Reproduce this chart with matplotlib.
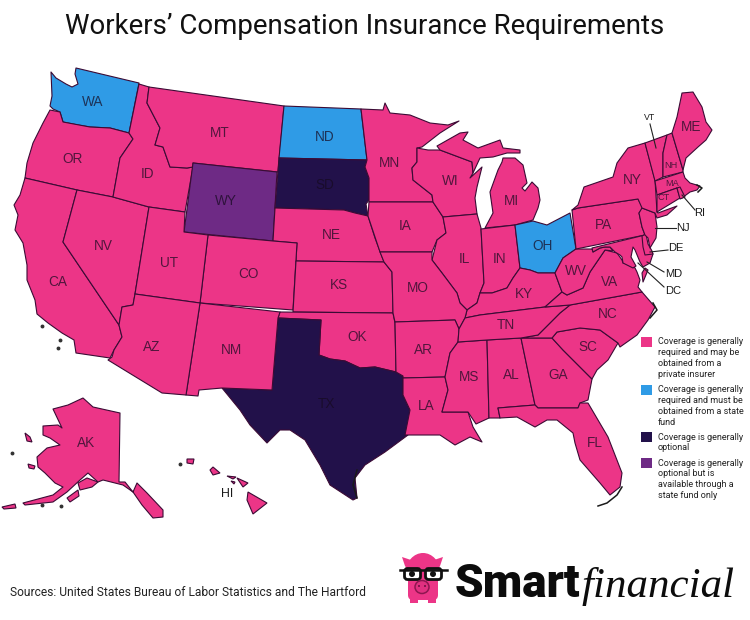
import matplotlib
matplotlib.use('Agg')
import matplotlib.pyplot as plt
from matplotlib.patches import Polygon, Circle, Ellipse, Rectangle, FancyBboxPatch

# state outlines in image pixels
WA = [(51,72),(56,78),(66,84),(72,87),(78,84),(75,74),(76,68),(139,83),(129,133),(110,128),(90,127),(78,125),(63,122),(60,112),(53,109),(50,106),(52,96)]
OR = [(50,110),(60,112),(63,122),(90,127),(110,128),(129,133),(133,139),(120,158),(113,197),(77,190),(25,178),(27,163),(33,143),(43,123)]
CA = [(25,178),(77,190),(63,242),(119,325),(122,337),(114,350),(110,358),(76,353),(74,340),(62,333),(48,323),(37,314),(35,300),(27,280),(27,265),(23,243),(15,230),(18,215),(14,205),(20,195)]
NV = [(77,190),(113,197),(149,207),(135,294),(133,305),(122,307),(119,325),(63,242)]
ID = [(139,84),(149,87),(147,103),(160,128),(155,145),(163,147),(170,167),(187,168),(193,167),(185,212),(149,207),(113,197),(120,158),(133,139),(129,133)]
MT = [(149,87),(284,106),(278,172),(193,163),(193,167),(187,168),(170,167),(163,147),(155,145),(160,128),(147,103)]
WY = [(193,163),(277,172),(273,241),(184,232)]
ND = [(284,106),(361,109),(367,160),(279,158)]
SD = [(279,158),(367,160),(365,167),(369,178),(369,200),(366,204),(368,216),(355,213),(344,210),(275,208)]
NE = [(275,208),(344,210),(355,213),(368,216),(375,238),(381,254),(384,262),(296,261),(297,243),(273,241)]
CO = [(208,235),(273,241),(297,243),(293,310),(200,303)]
UT = [(149,207),(185,212),(184,232),(208,235),(200,303),(135,294)]
KS = [(296,261),(384,262),(392,272),(393,313),(293,312)]
OK = [(280,312),(393,313),(395,323),(396,372),(375,367),(360,368),(345,361),(330,359),(319,355),(321,320),(278,318)]
TX = [(278,318),(321,320),(319,355),(330,359),(345,361),(360,368),(375,367),(396,372),(403,376),(403,395),(410,410),(408,435),(385,452),(365,465),(355,478),(357,498),(353,500),(330,485),(320,465),(305,440),(290,430),(280,430),(267,443),(250,425),(240,410),(222,388),(272,390)]
NM = [(200,303),(280,312),(278,318),(272,390),(222,388),(199,390),(198,396),(186,395)]
AZ = [(135,294),(200,303),(186,395),(162,393),(108,360),(112,357),(114,350),(122,337),(119,325),(122,307),(133,305)]
MN = [(361,109),(383,110),(385,103),(390,113),(410,115),(430,123),(448,125),(459,121),(440,133),(422,147),(417,148),(417,162),(412,168),(413,180),(432,195),(433,202),(369,202),(369,178),(365,167),(367,160)]
IA = [(369,202),(433,202),(443,217),(446,233),(437,240),(432,252),(380,252),(368,216)]
WI = [(417,148),(428,150),(440,150),(472,162),(473,173),(470,178),(482,167),(477,187),(475,198),(477,214),(443,217),(433,202),(432,195),(413,180),(412,168),(417,162)]
MI_UP = [(440,150),(437,146),(460,133),(468,132),(463,140),(478,148),(500,140),(503,148),(520,150),(520,153),(507,153),(493,157),(480,158),(473,173),(472,162)]
MI = [(503,158),(515,158),(523,165),(527,183),(522,188),(525,191),(532,182),(538,188),(540,200),(538,208),(533,220),(515,225),(485,228),(493,213),(490,192),(498,170),(502,162)]
IL = [(443,217),(477,214),(481,228),(484,283),(480,293),(477,303),(467,310),(460,303),(457,293),(442,273),(432,260),(437,240),(446,233)]
IN = [(481,229),(515,225),(520,268),(513,278),(507,288),(492,293),(480,293),(484,283)]
OH = [(515,225),(533,221),(547,225),(570,213),(576,249),(563,258),(555,273),(538,273),(530,270),(520,268)]
KY = [(480,293),(492,293),(507,288),(513,278),(520,268),(530,270),(538,273),(555,273),(562,292),(545,307),(480,315),(465,318),(467,310),(477,303)]
MO = [(380,252),(432,252),(432,260),(442,273),(457,293),(460,303),(467,310),(465,318),(459,329),(455,320),(395,322),(393,313),(392,272),(384,262)]
AR = [(395,322),(455,320),(459,329),(458,342),(450,353),(445,377),(403,378),(403,376),(396,372)]
LA = [(403,378),(445,377),(448,390),(442,412),(468,412),(473,427),(482,442),(470,437),(455,445),(440,435),(405,435),(410,410),(403,395)]
MS = [(458,342),(487,340),(489,418),(476,424),(468,412),(442,412),(448,390),(445,377),(450,353)]
AL = [(487,340),(521,338),(535,405),(498,408),(500,418),(489,418)]
GA = [(521,338),(552,338),(563,350),(592,379),(588,400),(580,403),(578,408),(538,408),(535,405)]
SC = [(552,338),(557,332),(580,328),(600,330),(618,343),(608,360),(597,370),(592,379),(563,350)]
NC = [(570,305),(642,292),(655,307),(648,320),(637,335),(620,347),(618,343),(600,330),(580,328),(557,332),(552,338),(521,338),(538,335),(560,313)]
TN = [(480,315),(545,307),(570,305),(560,313),(538,335),(521,338),(487,340),(458,342),(459,329),(465,318)]
VA = [(545,307),(562,292),(567,295),(583,288),(590,272),(605,250),(617,253),(622,260),(623,263),(630,263),(635,268),(637,272),(640,280),(638,287),(642,292),(570,305)]
VA_SHORE = [(645,268),(648,270),(643,282),(642,273)]
WV = [(576,249),(592,249),(593,252),(600,248),(605,247),(610,247),(613,251),(605,250),(590,272),(583,288),(567,295),(562,292),(555,273),(563,258)]
PA = [(572,210),(578,208),(638,199),(643,208),(639,213),(642,227),(645,235),(576,249)]
MD = [(592,248),(645,235),(648,248),(653,254),(650,263),(643,267),(640,262),(635,250),(633,247),(631,257),(636,266),(633,268),(623,263),(622,257),(620,255),(615,252),(610,247),(605,247),(600,248),(593,252)]
DE = [(642,236),(646,234),(648,244),(652,251),(653,254),(645,255),(643,247)]
NJ = [(642,208),(655,213),(657,227),(656,238),(650,248),(648,238),(645,235),(642,227),(639,213)]
NY = [(572,210),(578,205),(584,187),(613,177),(617,163),(628,148),(645,143),(655,180),(657,212),(658,213),(677,206),(667,215),(657,218),(655,213),(642,208),(638,199),(578,208)]
VT = [(645,143),(667,135),(663,153),(663,177),(655,181)]
NH = [(667,135),(672,133),(683,170),(683,172),(663,177),(663,153)]
ME = [(672,133),(677,117),(682,93),(693,92),(702,107),(706,122),(712,130),(706,140),(698,147),(686,158),(683,170)]
MA = [(655,181),(683,172),(685,178),(690,183),(700,186),(697,190),(690,192),(682,198),(677,188),(657,195)]
CT = [(657,195),(677,188),(680,198),(657,212)]
RI = [(677,188),(680,187),(685,197),(680,199)]
FL = [(498,408),(535,405),(538,408),(578,408),(580,403),(588,403),(608,437),(622,473),(620,487),(610,495),(600,483),(580,460),(575,443),(573,433),(557,420),(547,420),(535,427),(517,417),(500,418)]
AK = [(83,398),(93,407),(120,413),(119,482),(125,482),(133,492),(137,483),(147,493),(163,510),(163,517),(153,518),(142,505),(133,492),(123,485),(103,480),(98,482),(88,473),(80,480),(67,492),(53,502),(25,505),(23,503),(53,495),(63,487),(55,483),(45,473),(38,467),(37,457),(47,448),(60,445),(50,438),(43,435),(43,426),(58,425),(62,428),(53,409),(68,405)]
AK_ISLES = [[(80,490),(78,483),(87,478),(98,482),(92,487)],[(67,498),(78,490),(79,496),(70,502)],[(2,507),(15,504),(16,508),(4,509)],[(25,433),(30,437),(32,442),(27,441)],[(28,464),(35,466),(34,469),(29,468)]]
HI = [[(248,492),(267,503),(253,514),(247,500)],[(237,478),(248,483),(243,487)],[(213,467),(220,473),(213,475),(210,470)],[(187,459),(194,459),(193,464),(187,463)],[(227,476),(236,477),(233,479)],[(231,481),(235,482),(234,484)]]
SMALL_MARKS = [(42,326),(60,340),(58,348),(180,464),(12,453),(61,506),(42,505)]
COAST_MARKS = [[(357,470),(353,485),(357,498)],[(598,506),(607,503),(617,495),(622,487)],[(653,303),(657,310),(650,318)],[(697,185),(702,188),(698,192)]]

STATES = dict(WA=WA, OR=OR, CA=CA, NV=NV, ID=ID, MT=MT, WY=WY, ND=ND, SD=SD, NE=NE, CO=CO, UT=UT, KS=KS, OK=OK, TX=TX, NM=NM, AZ=AZ,
              MN=MN, IA=IA, WI=WI, MI_UP=MI_UP, MI=MI, IL=IL, IN=IN, OH=OH, KY=KY, MO=MO, AR=AR, LA=LA, MS=MS, AL=AL, GA=GA, SC=SC, NC=NC,
              TN=TN, VA=VA, VA_SHORE=VA_SHORE, WV=WV, PA=PA, MD=MD, DE=DE, NJ=NJ, NY=NY, VT=VT, NH=NH, ME=ME, MA=MA, CT=CT, RI=RI, FL=FL, AK=AK)

STATE_FUND = ['WA', 'ND', 'OH']
OPTIONAL = ['SD', 'TX']
OPTIONAL_FUND = ['WY']

LABELS = [('WA',93,102),('OR',73,159),('CA',58,282),('NV',103,246),('ID',148,174),('MT',220,133),('WY',226,201),('ND',325,137),('SD',325,185),
          ('NE',331,235),('CO',248,274),('UT',169,263),('KS',339,285),('OK',357,337),('TX',327,404),('NM',231,350),('AZ',152,347),('MN',390,163),
          ('IA',405,226),('WI',450,181),('MI',511,201),('IL',464,259),('IN',500,259),('OH',543,246),('KY',524,294),('MO',418,288),('AR',423,350),
          ('LA',426,406),('MS',469,377),('AL',511,375),('GA',558,375),('SC',588,347),('NC',608,314),('TN',506,325),('VA',610,282),('WV',576,271),
          ('PA',603,225),('NY',632,180),('ME',691,127),('FL',595,443),('AK',86,443)]
SMALL_LABELS = [('NH',671,165),('MA',672,183),('CT',664,197)]
OUTSIDE_LABELS = [('VT',650,118,8),('RI',700,213,10),('NJ',683,228,10),('DE',676,248,10),('MD',674,274,10),('DC',673,291,10),('HI',227,494,11)]
LEADERS = [((650,124),(656,148)),((682,195),(695,210)),((655,228),(676,228)),((650,252),(668,250)),((647,262),(664,272)),((638,263),(664,287))]

LEGEND_TEXT = [['Coverage is generally','required and may be','obtained from a','private insurer'],
               ['Coverage is generally','required and must be','obtained from a state','fund'],
               ['Coverage is generally','optional'],
               ['Coverage is generally','optional but is','available through a','state fund only']]
LEGEND_TOP = [342, 390, 437, 463]

PINK = '#EC3587'
BLUE = '#2F9BE6'
NAVY = '#22114A'
PURPLE = '#6E2A85'
EDGE = '#3B0B35'
LEGEND_COLORS = [PINK, BLUE, NAVY, PURPLE]

plt.rcParams['font.family'] = ['Roboto', 'DejaVu Sans']

fig = plt.figure(figsize=(7.5, 6.2), dpi=100)
ax = fig.add_axes([0, 0, 1, 1])
ax.set_xlim(0, 750)
ax.set_ylim(620, 0)
ax.axis('off')

for name, pts in STATES.items():
    color = PINK
    if name in STATE_FUND:
        color = BLUE
    elif name in OPTIONAL:
        color = NAVY
    elif name in OPTIONAL_FUND:
        color = PURPLE
    ax.add_patch(Polygon(pts, closed=True, fc=color, ec=EDGE, lw=0.8, joinstyle='round'))

for pts in AK_ISLES + HI:
    ax.add_patch(Polygon(pts, closed=True, fc=PINK, ec=EDGE, lw=0.8))
for x, y in SMALL_MARKS:
    ax.plot(x, y, 'o', ms=1.8, color='#333333')
for pts in COAST_MARKS:
    ax.plot([p[0] for p in pts], [p[1] for p in pts], color='#1a1a1a', lw=1.1)

for name, x, y in LABELS:
    ax.text(x, y, name, ha='center', va='center', fontsize=9.8, family='Liberation Sans', color='#160A20', alpha=0.72)
for name, x, y in SMALL_LABELS:
    ax.text(x, y, name, ha='center', va='center', fontsize=6.6, family='Liberation Sans', color='#160A20', alpha=0.72)
for name, x, y, size in OUTSIDE_LABELS:
    ax.text(x, y, name, ha='center', va='center', fontsize=size * 0.8, family='Liberation Sans', color='#1a1a1a')
for a, b in LEADERS:
    ax.plot([a[0], b[0]], [a[1], b[1]], color='#222222', lw=0.8)

ax.text(365, 27, "Workers\u2019 Compensation Insurance Requirements", ha='center', va='center', fontsize=19.9, color='#111111')
ax.text(10, 592, 'Sources: United States Bureau of Labor Statistics and The Hartford', ha='left', va='center', fontsize=8.68, color='#222222')

for lines, y, c in zip(LEGEND_TEXT, LEGEND_TOP, LEGEND_COLORS):
    ax.add_patch(Rectangle((641, y - 5), 11, 10, fc=c, ec='none'))
    for i, line in enumerate(lines):
        ax.text(658, y + i * 10.85, line, ha='left', va='center', fontsize=6.45, color='#222222')

# logo
ax.add_patch(Polygon([(402,557),(414,561),(410,572),(405,566)], fc=PINK, ec='none'))
ax.add_patch(Polygon([(443,557),(431,561),(435,572),(440,566)], fc=PINK, ec='none'))
ax.add_patch(Ellipse((423,572), 34, 38, fc=PINK, ec='none'))
ax.add_patch(FancyBboxPatch((410,578), 26, 20, boxstyle='round,pad=2,rounding_size=5', fc=PINK, ec='none'))
ax.add_patch(Rectangle((410,596), 8, 7, fc=PINK, ec='none'))
ax.add_patch(Rectangle((428,596), 8, 7, fc=PINK, ec='none'))
ax.add_patch(FancyBboxPatch((405,569), 15, 10, boxstyle='round,pad=0.5,rounding_size=3', fc='white', ec='#111111', lw=2))
ax.add_patch(FancyBboxPatch((426,569), 15, 10, boxstyle='round,pad=0.5,rounding_size=3', fc='white', ec='#111111', lw=2))
ax.plot([400,447], [569.5,569.5], color='#111111', lw=1.8)
ax.add_patch(Circle((412,574), 3, fc='#111111'))
ax.add_patch(Circle((433,574), 3, fc='#111111'))
ax.add_patch(Ellipse((422,587), 14, 13, fc='#E03080', ec='#8E1650', lw=1.1))
ax.add_patch(Circle((419,586), 1, fc='#6e1040'))
ax.add_patch(Circle((425,586), 1, fc='#6e1040'))
ax.text(455, 597, 'Smart', ha='left', va='baseline', fontsize=33, family='Roboto', weight='black', color='#0c0c0c')
ax.text(582, 597, 'financial', ha='left', va='baseline', fontsize=31, family='Liberation Serif', style='italic', color='#0c0c0c')

fig.savefig('out.png', dpi=100)
